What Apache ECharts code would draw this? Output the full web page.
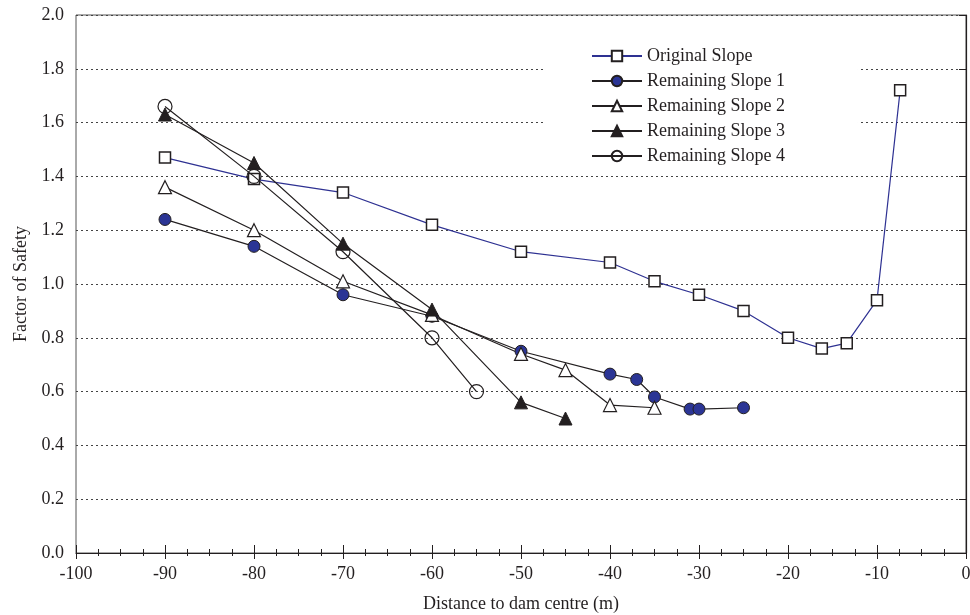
<!DOCTYPE html>
<html>
<head>
<meta charset="utf-8">
<script src="https://cdn.jsdelivr.net/npm/echarts@6/dist/echarts.min.js"></script>
<style>
  html, body { margin: 0; padding: 0; background: #fff; }
  #chart { width: 970px; height: 615px; }
</style>
</head>
<body>
<div id="chart"></div>
<script>
// values
const xOriginal = [-90, -80, -70, -60, -50, -40, -35, -30, -25, -20, -16.2, -13.4, -10, -7.4];
const yOriginal = [1.47, 1.39, 1.34, 1.22, 1.12, 1.08, 1.01, 0.96, 0.90, 0.80, 0.76, 0.78, 0.94, 1.72];

const xSlope1 = [-90, -80, -70, -60, -50, -40, -37, -35, -31, -30, -25];
const ySlope1 = [1.24, 1.14, 0.96, 0.88, 0.75, 0.665, 0.645, 0.58, 0.535, 0.535, 0.54];

const xSlope2 = [-90, -80, -70, -60, -50, -45, -40, -35];
const ySlope2 = [1.36, 1.20, 1.01, 0.885, 0.74, 0.68, 0.55, 0.54];

const xSlope3 = [-90, -80, -70, -60, -50, -45];
const ySlope3 = [1.63, 1.45, 1.15, 0.905, 0.56, 0.50];

const xSlope4 = [-90, -80, -70, -60, -55];
const ySlope4 = [1.66, 1.40, 1.12, 0.80, 0.60];

const seriesNames = ['Original Slope', 'Remaining Slope 1', 'Remaining Slope 2', 'Remaining Slope 3', 'Remaining Slope 4'];

function pairs(xs, ys) {
  return xs.map((x, i) => [x, ys[i]]);
}

const font = 'Liberation Serif';
const ink = '#231f20';
const blue = '#2e3192';

let chart = echarts.init(document.getElementById('chart'));

let option = {
  animation: false,
  backgroundColor: '#fff',
  textStyle: { fontFamily: font },
  grid: {
    left: 76, right: 4, top: 15, bottom: 62,
    outerBoundsMode: 'none',
    containLabel: false,
    show: true, borderColor: '#555', borderWidth: 1
  },
  legend: {
    orient: 'vertical',
    left: 546, top: 35,
    padding: [12, 73, 5, 45],
    backgroundColor: '#fff',
    itemWidth: 50, itemHeight: 13, itemGap: 7,
    textStyle: { fontFamily: font, fontSize: 18, color: ink },
    data: seriesNames
  },
  xAxis: [
    {
      type: 'value', min: -100, max: 0, interval: 10,
      name: 'Distance to dam centre (m)',
      nameLocation: 'middle', nameGap: 42,
      nameTextStyle: { fontFamily: font, fontSize: 18, color: ink },
      axisLine: { show: true, onZero: false, lineStyle: { color: ink, width: 1.2 } },
      axisTick: { show: true, length: 6, lineStyle: { color: ink } },
      minorTick: { show: true, splitNumber: 4, length: 3, lineStyle: { color: ink } },
      axisLabel: { fontFamily: font, fontSize: 18, color: ink, margin: 12 },
      splitLine: { show: false }
    },
    {
      type: 'value', min: -100, max: 0, interval: 10,
      position: 'bottom',
      axisLine: { show: false },
      axisTick: { show: true, inside: true, length: 8, lineStyle: { color: ink } },
      minorTick: { show: true, splitNumber: 4, length: 4, lineStyle: { color: ink } },
      axisLabel: { show: false },
      splitLine: { show: false }
    }
  ],
  yAxis: {
    type: 'value', min: 0, max: 2, interval: 0.2,
    name: 'Factor of Safety',
    nameLocation: 'middle', nameGap: 46,
    nameTextStyle: { fontFamily: font, fontSize: 18, color: ink },
    axisLine: { show: true, lineStyle: { color: ink, width: 1.2 } },
    axisTick: { show: true, length: 7, lineStyle: { color: ink } },
    axisLabel: {
      fontFamily: font, fontSize: 18, color: ink, margin: 12,
      formatter: v => v.toFixed(1)
    },
    splitLine: { show: true, lineStyle: { color: '#444', type: [2, 3], width: 1 } }
  },
  series: [
    {
      name: seriesNames[0], type: 'line', data: pairs(xOriginal, yOriginal),
      symbol: 'rect', symbolSize: 11,
      lineStyle: { color: blue, width: 1.2 },
      itemStyle: { color: '#fff', borderColor: ink, borderWidth: 1.5 },
      z: 2
    },
    {
      name: seriesNames[1], type: 'line', data: pairs(xSlope1, ySlope1),
      symbol: 'circle', symbolSize: 12,
      lineStyle: { color: ink, width: 1.2 },
      itemStyle: { color: '#2b3595', borderColor: ink, borderWidth: 1 },
      z: 3
    },
    {
      name: seriesNames[2], type: 'line', data: pairs(xSlope2, ySlope2),
      symbol: 'triangle', symbolSize: 13,
      lineStyle: { color: ink, width: 1.2 },
      itemStyle: { color: '#fff', borderColor: ink, borderWidth: 1.2 },
      z: 3
    },
    {
      name: seriesNames[3], type: 'line', data: pairs(xSlope3, ySlope3),
      symbol: 'triangle', symbolSize: 13,
      lineStyle: { color: ink, width: 1.2 },
      itemStyle: { color: ink, borderColor: ink, borderWidth: 1 },
      z: 3
    },
    {
      name: seriesNames[4], type: 'line', data: pairs(xSlope4, ySlope4),
      symbol: 'circle', symbolSize: 14,
      lineStyle: { color: ink, width: 1.2 },
      itemStyle: { color: 'rgba(255,255,255,0)', borderColor: ink, borderWidth: 1.2 },
      z: 4
    }
  ]
};

chart.setOption(option);
</script>
</body>
</html>
